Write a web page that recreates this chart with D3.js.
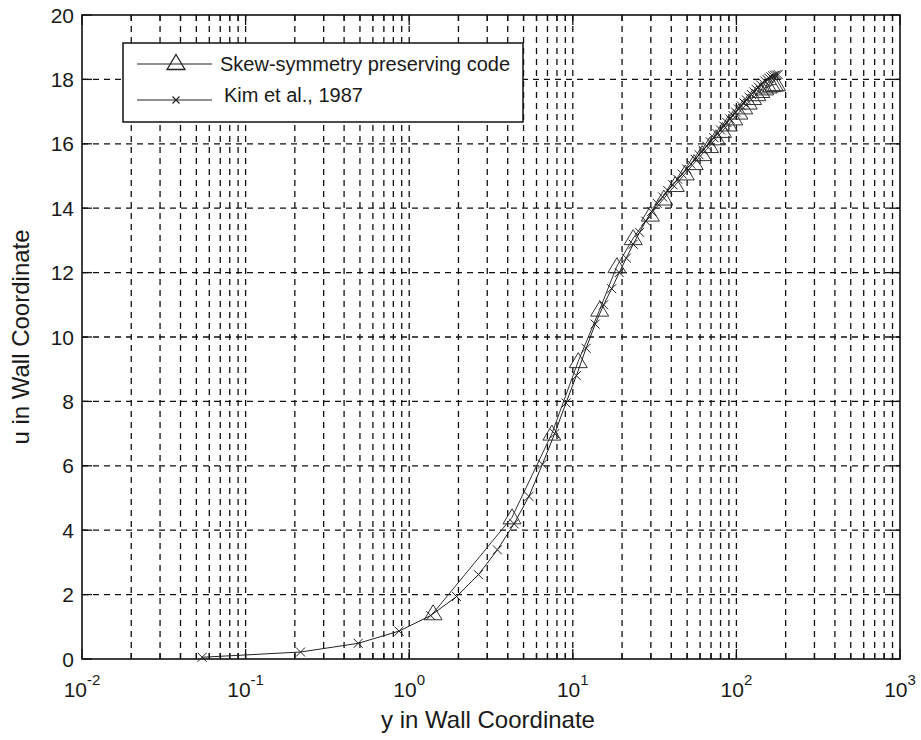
<!DOCTYPE html>
<html>
<head>
<meta charset="utf-8">
<script src="https://cdn.jsdelivr.net/npm/d3@7"></script>
<style>
  html, body { margin: 0; padding: 0; background: #fff; }
  svg { display: block; font-family: Arial, "Liberation Sans", Helvetica, sans-serif; }
</style>
</head>
<body>
<svg id="chart" width="921" height="740"></svg>
<script>
// Mean velocity profile in wall units: Chebyshev-grid reference data and the skew-symmetric solver
const kimY = [0.0542, 0.2168, 0.4877, 0.8668, 1.354, 1.948, 2.650, 3.459, 4.374, 5.394,
  6.520, 7.751, 9.085, 10.52, 12.06, 13.70, 15.44, 17.28, 19.22, 21.25,
  23.39, 25.61, 27.93, 30.33, 32.83, 35.42, 38.10, 40.86, 43.70, 46.63,
  49.64, 52.72, 55.88, 59.12, 62.43, 65.81, 69.26, 72.78, 76.36, 80.00,
  83.70, 87.46, 91.28, 95.15, 99.07, 103.0, 107.1, 111.1, 115.2, 119.4,
  123.5, 127.8, 132.0, 136.3, 140.6, 144.9, 149.2, 153.6, 158.0, 162.4,
  166.8, 171.2, 175.6, 180.0];
const kimU = [0.054, 0.217, 0.487, 0.866, 1.35, 1.94, 2.62, 3.39, 4.20, 5.05,
  6.05, 7.00, 7.95, 8.80, 9.65, 10.40, 11.00, 11.50, 12.00, 12.45,
  12.88, 13.25, 13.60, 13.90, 14.15, 14.35, 14.55, 14.73, 14.90, 15.06,
  15.22, 15.37, 15.52, 15.66, 15.80, 15.93, 16.06, 16.19, 16.31, 16.43,
  16.55, 16.66, 16.77, 16.88, 16.98, 17.08, 17.18, 17.27, 17.36, 17.45,
  17.53, 17.61, 17.69, 17.76, 17.83, 17.89, 17.95, 18.00, 18.04, 18.08,
  18.11, 18.13, 18.14, 18.15];

const skewY = [1.40, 4.25, 7.45, 10.8, 14.6, 18.6, 23.4, 29.8, 36.0, 42.3,
  48.7, 55.2, 61.8, 68.5, 75.3, 82.2, 89.2, 96.3, 103.5, 110.8,
  118.2, 125.7, 133.3, 141.0, 148.8, 156.6, 164.4, 170.5, 176.0];
const skewU = [1.42, 4.40, 7.00, 9.25, 10.85, 12.20, 13.07, 13.80, 14.30, 14.72,
  15.08, 15.40, 15.68, 15.93, 16.17, 16.40, 16.60, 16.79, 16.97, 17.13,
  17.28, 17.42, 17.54, 17.64, 17.72, 17.78, 17.82, 17.84, 17.85];

const xTickExponents = [-2, -1, 0, 1, 2, 3];
const yTickValues = [0, 2, 4, 6, 8, 10, 12, 14, 16, 18, 20];
const seriesNames = ["Skew-symmetry preserving code", "Kim et al., 1987"];
const xTitle = "y in Wall Coordinate";
const yTitle = "u in Wall Coordinate";

const svg = d3.select("#chart");
const pL = 82, pR = 900, pT = 15, pB = 659;

const x = d3.scaleLog().domain([1e-2, 1e3]).range([pL, pR]);
const y = d3.scaleLinear().domain([0, 20]).range([pB, pT]);

// minor decade ticks 2..9 and major decade ticks
const majorX = xTickExponents.map(e => Math.pow(10, e));
const minorX = [];
for (let e = -2; e < 3; e++) for (let k = 2; k <= 9; k++) minorX.push(k * Math.pow(10, e));

const ink = "#111";

// grid lines
const grid = svg.append("g").attr("stroke", ink).attr("stroke-width", 1.3)
  .attr("stroke-dasharray", "6,5").attr("fill", "none");
majorX.concat(minorX).forEach(v => {
  if (v <= 1e-2 || v >= 1e3) return;
  grid.append("line").attr("x1", x(v)).attr("x2", x(v)).attr("y1", pB).attr("y2", pT);
});
yTickValues.forEach(v => {
  if (v === 0 || v === 20) return;
  grid.append("line").attr("x1", pL).attr("x2", pR).attr("y1", y(v)).attr("y2", y(v));
});

// tick marks on all four sides, pointing inward
const ticks = svg.append("g").attr("stroke", ink).attr("stroke-width", 1.3);
majorX.forEach(v => {
  ticks.append("line").attr("x1", x(v)).attr("x2", x(v)).attr("y1", pB).attr("y2", pB - 10);
  ticks.append("line").attr("x1", x(v)).attr("x2", x(v)).attr("y1", pT).attr("y2", pT + 10);
});
minorX.forEach(v => {
  ticks.append("line").attr("x1", x(v)).attr("x2", x(v)).attr("y1", pB).attr("y2", pB - 6);
  ticks.append("line").attr("x1", x(v)).attr("x2", x(v)).attr("y1", pT).attr("y2", pT + 6);
});
yTickValues.forEach(v => {
  ticks.append("line").attr("x1", pL).attr("x2", pL + 10).attr("y1", y(v)).attr("y2", y(v));
  ticks.append("line").attr("x1", pR).attr("x2", pR - 10).attr("y1", y(v)).attr("y2", y(v));
});

// axes box
svg.append("rect").attr("x", pL).attr("y", pT).attr("width", pR - pL).attr("height", pB - pT)
  .attr("fill", "none").attr("stroke", ink).attr("stroke-width", 1.6);

// y tick labels
svg.append("g").selectAll("text").data(yTickValues).join("text")
  .attr("x", pL - 8).attr("y", d => y(d)).attr("dy", "0.36em")
  .attr("text-anchor", "end").attr("font-size", 21).attr("fill", "#1a1a1a")
  .text(d => d);

// x tick labels: 10 with superscript exponent
const xl = svg.append("g").attr("fill", "#1a1a1a");
xTickExponents.forEach(e => {
  const t = xl.append("text").attr("x", x(Math.pow(10, e))).attr("y", 697)
    .attr("text-anchor", "middle").attr("font-size", 21);
  t.append("tspan").text("10");
  t.append("tspan").attr("font-size", 15).attr("dy", -12).text(String(e));
});

// axis titles
svg.append("text").attr("x", (pL + pR) / 2 - 3).attr("y", 728)
  .attr("text-anchor", "middle").attr("font-size", 24).attr("fill", "#1a1a1a").text(xTitle);
svg.append("text").attr("transform", `translate(29,${(pT + pB) / 2}) rotate(-90)`)
  .attr("text-anchor", "middle").attr("font-size", 24).attr("fill", "#1a1a1a").text(yTitle);

// markers
const triPath = "M0,-8.5L9,6.5L-9,6.5Z";
const crossPath = "M-4.5,-4.5L4.5,4.5M-4.5,4.5L4.5,-4.5";

const line = d3.line().x(d => x(d[0])).y(d => y(d[1]));
const skewPts = skewY.map((v, i) => [v, skewU[i]]);
const kimPts = kimY.map((v, i) => [v, kimU[i]]);

const plot = svg.append("g");
plot.append("path").datum(skewPts).attr("d", line).attr("fill", "none")
  .attr("stroke", "#333").attr("stroke-width", 1);
plot.append("g").selectAll("path").data(skewPts).join("path")
  .attr("transform", d => `translate(${x(d[0])},${y(d[1])})`).attr("d", triPath)
  .attr("fill", "none").attr("stroke", "#333").attr("stroke-width", 1);

plot.append("path").datum(kimPts).attr("d", line).attr("fill", "none")
  .attr("stroke", "#222").attr("stroke-width", 1);
plot.append("g").selectAll("path").data(kimPts).join("path")
  .attr("transform", d => `translate(${x(d[0])},${y(d[1])})`).attr("d", crossPath)
  .attr("fill", "none").attr("stroke", "#222").attr("stroke-width", 1);

// legend
const lg = svg.append("g");
lg.append("rect").attr("x", 123).attr("y", 43).attr("width", 400).attr("height", 79)
  .attr("fill", "#fff").attr("stroke", ink).attr("stroke-width", 1.5);
lg.append("line").attr("x1", 137).attr("x2", 212).attr("y1", 64).attr("y2", 64)
  .attr("stroke", "#222").attr("stroke-width", 1.2);
lg.append("path").attr("transform", "translate(176,63)").attr("d", triPath)
  .attr("fill", "none").attr("stroke", "#222").attr("stroke-width", 1.3);
lg.append("line").attr("x1", 137).attr("x2", 212).attr("y1", 100).attr("y2", 100)
  .attr("stroke", "#222").attr("stroke-width", 1.2);
lg.append("path").attr("transform", "translate(176,100)").attr("d", "M-3.5,-3.5L3.5,3.5M-3.5,3.5L3.5,-3.5")
  .attr("fill", "none").attr("stroke", "#222").attr("stroke-width", 1.2);
lg.append("text").attr("x", 220).attr("y", 71).attr("font-size", 20).attr("fill", "#1a1a1a").text(seriesNames[0]);
lg.append("text").attr("x", 224).attr("y", 102).attr("font-size", 20).attr("fill", "#1a1a1a").text(seriesNames[1]);
</script>
</body>
</html>
